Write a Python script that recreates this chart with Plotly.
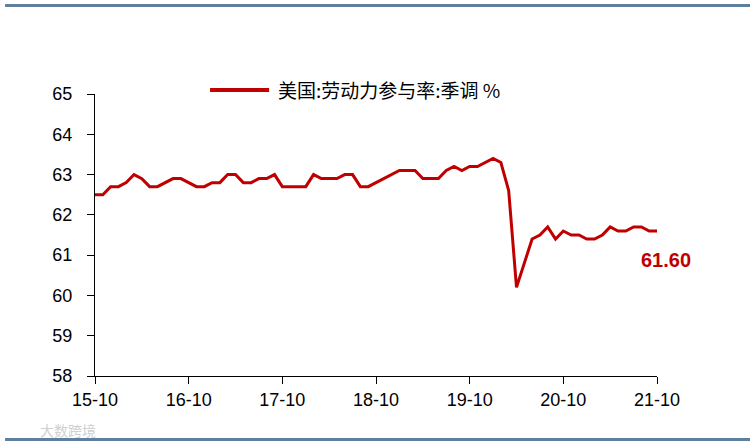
import plotly.graph_objects as go

months = [f"{(15 + (9 + i) // 12):02d}-{((9 + i) % 12) + 1:02d}" for i in range(73)]
lfpr = [62.5, 62.5, 62.7, 62.7, 62.8, 63.0, 62.9, 62.7, 62.7, 62.8, 62.9, 62.9,
        62.8, 62.7, 62.7, 62.8, 62.8, 63.0, 63.0, 62.8, 62.8, 62.9, 62.9, 63.0,
        62.7, 62.7, 62.7, 62.7, 63.0, 62.9, 62.9, 62.9, 63.0, 63.0, 62.7, 62.7,
        62.8, 62.9, 63.0, 63.1, 63.1, 63.1, 62.9, 62.9, 62.9, 63.1, 63.2, 63.1,
        63.2, 63.2, 63.3, 63.4, 63.3, 62.6, 60.2, 60.8, 61.4, 61.5, 61.7, 61.4,
        61.6, 61.5, 61.5, 61.4, 61.4, 61.5, 61.7, 61.6, 61.6, 61.7, 61.7, 61.6,
        61.6]
tick_labels = ["15-10", "16-10", "17-10", "18-10", "19-10", "20-10", "21-10"]
series_name = "美国:劳动力参与率:季调 %"
last_label = "61.60"

RED = "#C00000"
BAR = "#5F7F9F"

fig = go.Figure()
fig.add_trace(go.Scatter(x=months, y=lfpr, mode="lines",
                         line=dict(color=RED, width=3), name=series_name,
                         showlegend=False))

fig.update_layout(
    width=753, height=447,
    margin=dict(l=95, r=96, t=94, b=71),
    plot_bgcolor="white", paper_bgcolor="white",
    font=dict(family="Liberation Sans, Arial", size=18, color="black"),
    xaxis=dict(type="category", range=[0, len(months) - 1],
               tickmode="array", tickvals=tick_labels, ticktext=tick_labels,
               showline=True, linecolor="black", linewidth=1,
               ticks="outside", ticklen=7, tickcolor="black",
               showgrid=False, zeroline=False),
    yaxis=dict(range=[58, 65], dtick=1, tick0=58,
               showline=True, linecolor="black", linewidth=1,
               ticks="outside", ticklen=7, tickcolor="black",
               ticklabelstandoff=11,
               showgrid=False, zeroline=False),
)

# legend drawn manually
fig.add_shape(type="line", xref="paper", yref="paper",
              x0=0.2047, x1=0.3098, y0=1.0142, y1=1.0142,
              line=dict(color=RED, width=4))
fig.add_annotation(text=series_name, xref="paper", yref="paper",
                   x=0.322, y=1.0142, xanchor="left", yanchor="middle",
                   showarrow=False,
                   font=dict(family="Noto Sans CJK SC", size=19, color="black"))

# last value label
fig.add_annotation(text=f"<b>{last_label}</b>", x=months[-1], y=lfpr[-1],
                   xanchor="left", yanchor="middle", xshift=-18, yshift=-29,
                   showarrow=False,
                   font=dict(family="Liberation Sans, Arial", size=20, color=RED))

# decorative bars and watermark
fig.add_shape(type="rect", xref="paper", yref="paper",
              x0=-0.160, x1=1.1655, y0=1.3085, y1=1.319,
              line=dict(width=0), fillcolor=BAR)
fig.add_shape(type="rect", xref="paper", yref="paper",
              x0=-0.160, x1=1.1655, y0=-0.2199, y1=-0.2305,
              line=dict(width=0), fillcolor=BAR)
fig.add_annotation(text="大数跨境", xref="paper", yref="paper",
                   x=-0.1014, y=-0.1915, xanchor="left", yanchor="middle",
                   showarrow=False,
                   font=dict(family="Noto Sans CJK SC", size=14, color="#D0D0D0"))

fig.write_html("out.html", config={"displayModeBar": False},
               post_script="document.body.style.margin='0';")
